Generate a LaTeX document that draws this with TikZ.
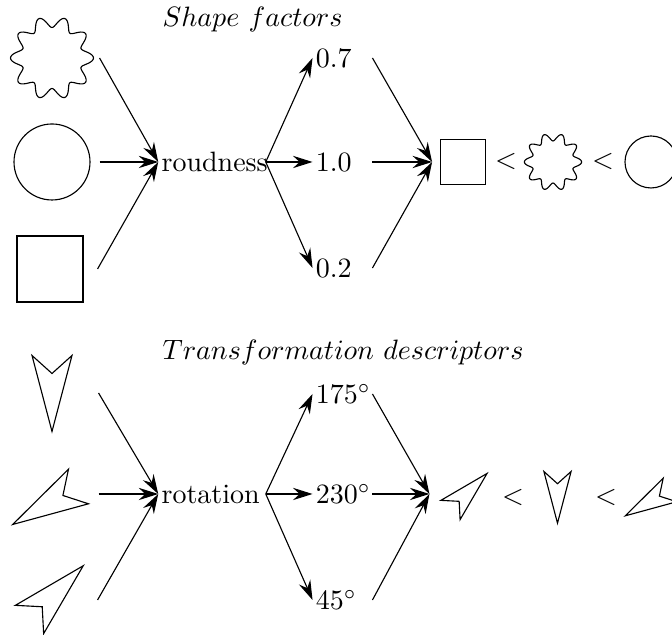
\documentclass[tikz,border=0pt]{standalone}
\usepackage{tikz}
\usetikzlibrary{positioning,arrows.meta}
\newcommand{\px}{0.3571pt}
% wavy outline with ten bumps: centre, scale
\newcommand{\wavystar}[2]{\draw[shift={(#1)},scale=#2] plot[domain=0:360,samples=181] (\x:{36+5.5*cos(10*\x)}) -- cycle;}
% notched arrow head: wing midpoint, rotation, scale
\newcommand{\kite}[3]{\draw[shift={(#1)},rotate=#2,scale=#3] (-20,0) -- (0,18) -- (20,0) -- (0,76) -- cycle;}
\tikzset{
  slot/.style={inner sep=0pt,minimum width=94*\px,minimum height=80*\px},
  factor/.style={text width=36pt,inner sep=1pt,align=left},
  val/.style={text width=19pt,inner sep=1pt,align=left},
  head/.style={anchor=west,inner sep=0pt},
  feed/.style={-{Stealth[length=7pt,width=4.4pt,inset=2.4pt]}},
  sqbox/.style={draw,inner sep=0pt,minimum size=45*\px,outer sep=3pt}
}
\begin{document}
\begin{tikzpicture}[x=\px,y=\px]
  \useasboundingbox (0,0) rectangle (672,635);
  % shape factors
  \node[head] (t1) at (162,615) {$Shape\ factors$};
  \node[slot] (star) at (52,577) {}; \node[slot] (circ) at (52,473) {}; \node[slot] (sq) at (50,366) {};
  \wavystar{star.center}{1}
  \draw (circ.center) circle (38);
  \draw (sq.center) +(-33,-33) rectangle +(33,33);
  \node[factor] (roud) at (212,473) {roudness};
  \node[val] (v07) at (342.5,577) {0.7}; \node[val] (v10) at (342.5,473) {1.0}; \node[val] (v02) at (342.5,367) {0.2};
  \draw[feed] (star.east)--(roud.west); \draw[feed] (circ.east)--(roud.west); \draw[feed] (sq.east)--(roud.west);
  \draw[feed] (roud.east)--(v07.west); \draw[feed] (roud.east)--(v10.west); \draw[feed] (roud.east)--(v02.west);
  \node[sqbox] (sqr) at (463,473) {};
  \draw[feed] (v07.east)--(sqr.west); \draw[feed] (v10.east)--(sqr.west); \draw[feed] (v02.east)--(sqr.west);
  \node (lt1) at (506,473) {$<$};
  \wavystar{553,473}{0.69}
  \node (lt2) at (603,473) {$<$};
  \draw (651,473) circle (26);
  % transformation descriptors
  \node[head] (t2) at (162,282) {$Transformation\ descriptors$};
  \node[slot] (ar1) at (51,242) {}; \node[slot] (ar2) at (51,141) {}; \node[slot] (ar3) at (50,35) {};
  \kite{52,279.5}{180}{1} \kite{78.5,148.5}{120}{1} \kite{29.5,15.5}{-45}{1}
  \node[factor] (rot) at (212,141) {rotation};
  \node[val] (v175) at (342.5,241) {$175^\circ$}; \node[val] (v230) at (342.5,141) {$230^\circ$}; \node[val] (v45) at (342.5,35) {$45^\circ$};
  \draw[feed] (ar1.east)--(rot.west); \draw[feed] (ar2.east)--(rot.west); \draw[feed] (ar3.east)--(rot.west);
  \draw[feed] (rot.east)--(v175.west); \draw[feed] (rot.east)--(v230.west); \draw[feed] (rot.east)--(v45.west);
  \node[slot,minimum width=68*\px,minimum height=50*\px] (rk1) at (464,141) {};
  \draw[feed] (v175.east)--(rk1.west); \draw[feed] (v230.east)--(rk1.west); \draw[feed] (v45.east)--(rk1.west);
  \kite{450.5,125}{-45}{0.68}
  \node (lt3) at (513,137) {$<$};
  \kite{557.5,163.5}{180}{0.68}
  \node (lt4) at (606,137) {$<$};
  \kite{670,145}{120}{0.68}
\end{tikzpicture}
\end{document}
